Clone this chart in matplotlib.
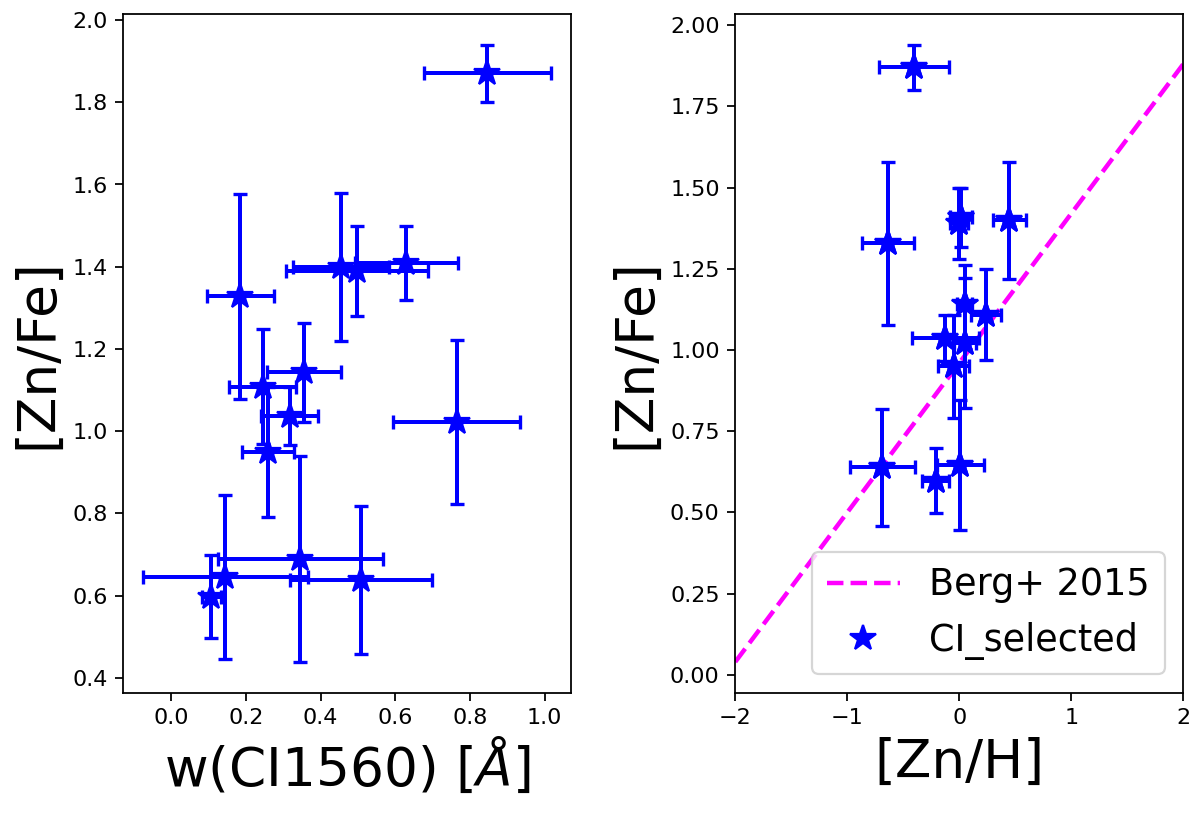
import numpy as np
import matplotlib
matplotlib.use("Agg")
import matplotlib.pyplot as plt
from matplotlib.ticker import MultipleLocator

# --- data (one entry per absorber) ---
w_ci = [0.846, 0.185, 0.455, 0.497, 0.630, 0.355, 0.245, 0.317, 0.259, 0.765, 0.346, 0.145, 0.509, 0.107]
w_ci_err = [0.170, 0.090, 0.128, 0.190, 0.137, 0.100, 0.090, 0.077, 0.070, 0.170, 0.220, 0.220, 0.190, 0.025]
zn_fe = [1.870, 1.328, 1.400, 1.390, 1.408, 1.143, 1.108, 1.037, 0.950, 1.023, 0.689, 0.646, 0.639, 0.598]
zn_fe_err = [0.070, 0.250, 0.180, 0.110, 0.090, 0.120, 0.140, 0.070, 0.158, 0.200, 0.250, 0.200, 0.180, 0.100]
zn_h = [-0.403, -0.636, 0.448, 0.000, 0.015, 0.048, 0.239, -0.125, -0.051, 0.054, np.nan, 0.009, -0.686, -0.209]
zn_h_err = [0.310, 0.230, 0.147, 0.080, 0.100, 0.070, 0.130, 0.300, 0.135, 0.100, np.nan, 0.210, 0.290, 0.120]

# Berg+ 2015 relation
berg_slope = 0.46
berg_icpt = 0.96
berg_x = [-2, 2]

fig, (ax1, ax2) = plt.subplots(1, 2, figsize=(7.5, 5.094), dpi=160)
fig.subplots_adjust(left=0.1025, right=0.986, bottom=0.15, top=0.983, wspace=0.367)

eb_kw = dict(fmt='*', color='b', ms=12, elinewidth=1.8, capsize=3, capthick=1.5)

# left: [Zn/Fe] vs w(CI1560)
ax1.errorbar(w_ci, zn_fe, xerr=w_ci_err, yerr=zn_fe_err, **eb_kw)
ax1.xaxis.set_major_locator(MultipleLocator(0.2))
ax1.set_xlabel(r'w(CI1560) [$\AA$]', fontsize=24)
ax1.set_ylabel('[Zn/Fe]', fontsize=24)

# right: [Zn/Fe] vs [Zn/H]
berg_y = [berg_slope * x + berg_icpt for x in berg_x]
ax2.plot(berg_x, berg_y, '--', color='magenta', lw=2, label='Berg+ 2015')
ax2.errorbar(zn_h, zn_fe, xerr=zn_h_err, yerr=zn_fe_err, **eb_kw)
ax2.plot(zn_h, zn_fe, '*', color='b', ms=12, label='CI_selected')
ax2.set_xlim(-2, 2)
ax2.set_xlabel('[Zn/H]', fontsize=24)
ax2.set_ylabel('[Zn/Fe]', fontsize=24)
ax2.legend(loc='lower right', fontsize=16.5)

fig.savefig('out.png', dpi=160)
